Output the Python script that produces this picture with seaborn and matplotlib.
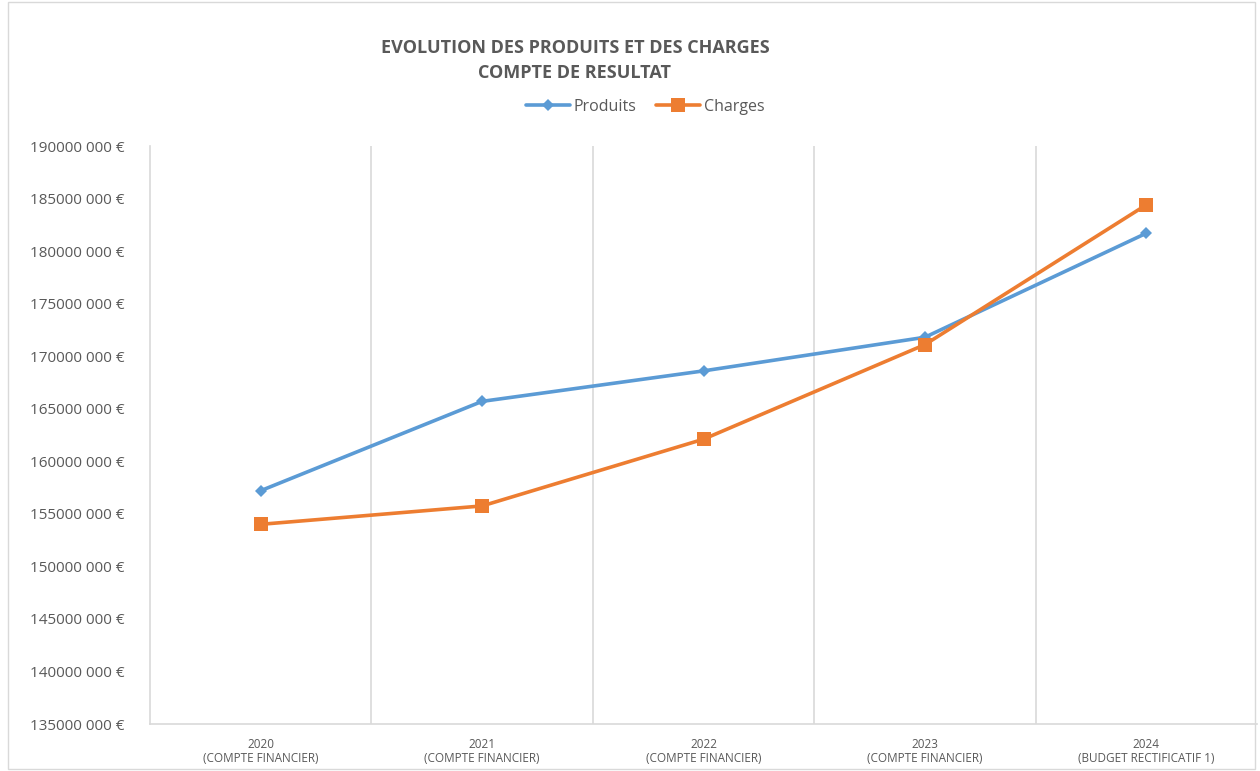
import pandas as pd
import numpy as np
import seaborn as sns
import matplotlib.pyplot as plt
from matplotlib.ticker import FuncFormatter

# Data (euros)
years = ["2020\n(COMPTE FINANCIER)", "2021\n(COMPTE FINANCIER)", "2022\n(COMPTE FINANCIER)",
         "2023\n(COMPTE FINANCIER)", "2024\n(BUDGET RECTIFICATIF 1)"]
produits = [157200000, 165700000, 168600000, 171800000, 181700000]
charges = [154000000, 155750000, 162100000, 171100000, 184400000]

df = pd.DataFrame({
    "periode": years * 2,
    "pos": list(range(len(years))) * 2,
    "valeur": produits + charges,
    "serie": ["Produits"] * len(years) + ["Charges"] * len(years),
})

sns.set_style("white")
plt.rcParams["font.family"] = ["Open Sans", "DejaVu Sans"]

fig = plt.figure(figsize=(12.6, 7.71), dpi=100)
ax = fig.add_axes([150 / 1260, 1 - 724 / 771, 1107 / 1260, 578 / 771])

palette = {"Produits": "#5B9BD5", "Charges": "#ED7D31"}
sns.lineplot(data=df, x="pos", y="valeur", hue="serie", style="serie",
             markers={"Produits": "D", "Charges": "s"}, dashes=False,
             palette=palette, linewidth=2.6, ax=ax, legend=False)
for line, ms in zip(ax.lines, [6.5, 9.5]):
    line.set_markersize(ms)
    line.set_markeredgewidth(0)

ax.set_xlim(-0.5, len(years) - 0.5)
ax.set_ylim(135000000, 190000000)
ax.set_yticks(np.arange(135000000, 190000001, 5000000))
ax.yaxis.set_major_formatter(FuncFormatter(
    lambda v, p: f"{int(v) // 1000000}{int(v) % 1000000 // 1000:03d} {int(v) % 1000:03d} €"))
ax.set_xticks(range(len(years)))
ax.set_xticklabels(years, fontsize=8.5, color="#595959", linespacing=1.15)
ax.tick_params(axis="y", labelsize=11, colors="#595959", length=0, pad=18)
ax.tick_params(axis="x", length=0, pad=10)
ax.set_xlabel("")
ax.set_ylabel("")

# vertical gridlines between categories
for b in np.arange(0.5, len(years) - 0.5, 1):
    ax.axvline(b, color="#D9D9D9", linewidth=1.2, zorder=0)

for side in ["top", "right"]:
    ax.spines[side].set_visible(False)
for side in ["left", "bottom"]:
    ax.spines[side].set_color("#D9D9D9")
    ax.spines[side].set_linewidth(1.2)

fig.text(575 / 1260, 1 - 48 / 771, "EVOLUTION DES PRODUITS ET DES CHARGES",
         ha="center", va="center", fontsize=13, fontweight="bold", color="#595959")
fig.text(575 / 1260, 1 - 73 / 771, "COMPTE DE RESULTAT",
         ha="center", va="center", fontsize=13, fontweight="bold", color="#595959")

handles = [plt.Line2D([], [], color=palette[s], marker=m, markersize=ms, markeredgewidth=0,
                      linewidth=2.6) for s, m, ms in [("Produits", "D", 6.5), ("Charges", "s", 9.5)]]
fig.legend(handles, ["Produits", "Charges"], loc="center", bbox_to_anchor=(645 / 1260, 1 - 107 / 771),
           ncol=2, frameon=False, fontsize=11.5, labelcolor="#595959", handlelength=2.8,
           handletextpad=0.2, columnspacing=1.2)

# outer chart border
fig.patches.append(plt.Rectangle((0.006, 0.002), 0.99, 0.996, transform=fig.transFigure,
                                 fill=False, edgecolor="#D9D9D9", linewidth=1))

plt.savefig("out.png", dpi=100)
